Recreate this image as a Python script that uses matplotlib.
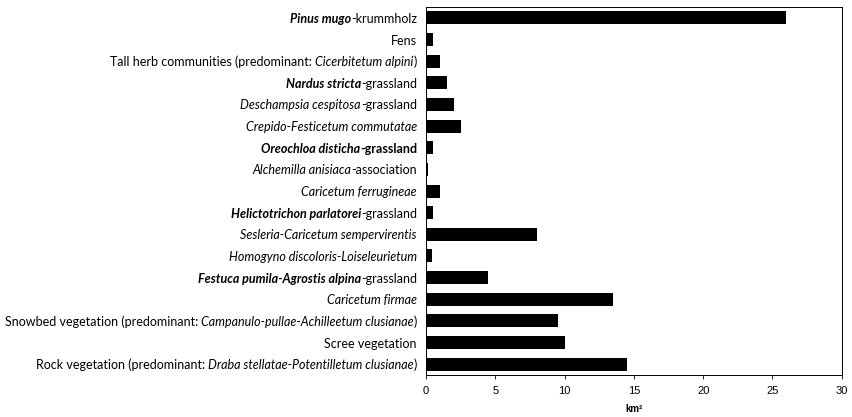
import matplotlib
matplotlib.use('Agg')
import matplotlib.pyplot as plt
import matplotlib.transforms as mtransforms

# label pieces: (text, style)  n=normal, i=italic, bi=bold italic, b=bold
labels = [
    [("Pinus mugo", "bi"), ("-krummholz", "n")],
    [("Fens", "n")],
    [("Tall herb communities (predominant: ", "n"), ("Cicerbitetum alpini", "i"), (")", "n")],
    [("Nardus stricta", "bi"), ("-grassland", "n")],
    [("Deschampsia cespitosa", "i"), ("-grassland", "n")],
    [("Crepido-Festicetum commutatae", "i")],
    [("Oreochloa disticha", "bi"), ("-grassland", "b")],
    [("Alchemilla anisiaca", "i"), ("-association", "n")],
    [("Caricetum ferrugineae", "i")],
    [("Helictotrichon parlatorei", "bi"), ("-grassland", "n")],
    [("Sesleria-Caricetum sempervirentis", "i")],
    [("Homogyno discoloris-Loiseleurietum", "i")],
    [("Festuca pumila-Agrostis alpina", "bi"), ("-grassland", "n")],
    [("Caricetum firmae", "i")],
    [("Snowbed vegetation (predominant: ", "n"), ("Campanulo-pullae-Achilleetum clusianae", "i"), (")", "n")],
    [("Scree vegetation", "n")],
    [("Rock vegetation (predominant: ", "n"), ("Draba stellatae-Potentilletum clusianae", "i"), (")", "n")],
]
areas = [26, 0.5, 1.0, 1.5, 2.0, 2.5, 0.5, 0.15, 1.0, 0.5, 8.0, 0.4, 4.5, 13.5, 9.5, 10.0, 14.5]
xticks = [0, 5, 10, 15, 20, 25, 30]

lab_font = 'Lato'

fig = plt.figure(figsize=(8.52, 4.17), dpi=100)
ax = fig.add_axes([0.5, 0.1007, 0.488, 0.8823])

ypos = list(range(len(areas)))
ax.barh(ypos, areas, height=0.6, color='black')
ax.set_ylim(len(areas) - 0.5, -0.5)
ax.set_xlim(0, 30)
ax.set_xticks(xticks)
ax.set_xticklabels([str(t) for t in xticks], fontsize=8, family='Liberation Sans')
ax.set_yticks([])
ax.tick_params(axis='x', length=3, width=0.6, pad=5)
for s in ax.spines.values():
    s.set_linewidth(0.7)
ax.set_xlabel('km²', fontsize=7, fontweight='bold', family='Liberation Sans', labelpad=6)

styles = {
    'n': dict(style='normal', weight='normal'),
    'i': dict(style='italic', weight='normal'),
    'bi': dict(style='italic', weight='bold'),
    'b': dict(style='normal', weight='bold'),
}

renderer = fig.canvas.get_renderer()
base = mtransforms.blended_transform_factory(ax.transAxes, ax.transData)
for y, pieces in zip(ypos, labels):
    off = -9
    for txt, st in reversed(pieces):
        if txt.endswith(' '):
            off -= 3
        t = ax.text(0, y, txt.strip(), ha='right', va='center_baseline',
                    fontsize=9, family=lab_font, **styles[st],
                    transform=mtransforms.offset_copy(base, fig, x=off, y=0, units='dots'))
        off -= t.get_window_extent(renderer).width

fig.savefig('out.png', dpi=100)
